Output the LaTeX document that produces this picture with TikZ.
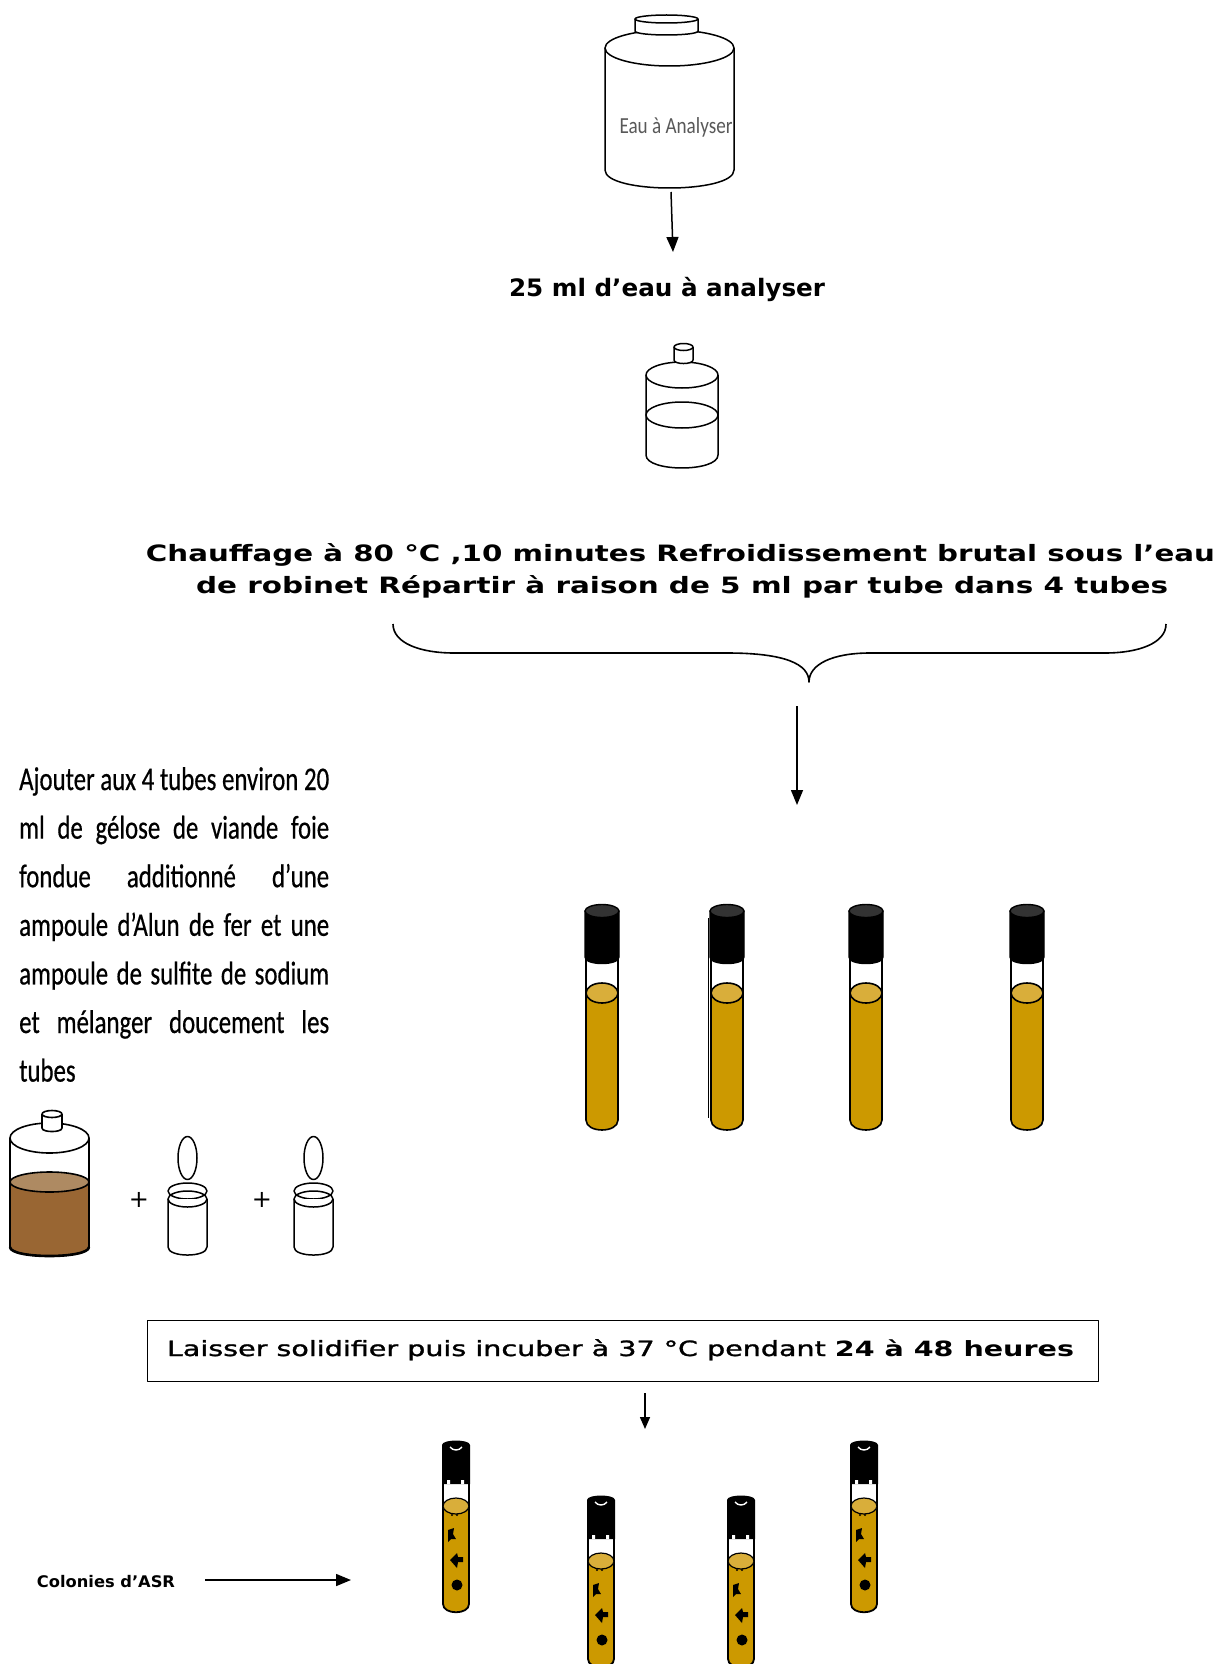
\documentclass[tikz,border=0pt]{standalone}
\usepackage{fontspec}
\setmainfont{DejaVu Sans}
\newfontfamily\calib{Carlito}[FakeBold=0.6]
\newfontfamily\calibplain{Carlito}
\newfontfamily\semib{DejaVu Sans}[FakeBold=1.2]
\usetikzlibrary{arrows.meta}
\definecolor{gold}{HTML}{CC9900}
\definecolor{goldlight}{HTML}{D9AE3A}
\definecolor{capgray}{HTML}{333333}
\definecolor{brownliq}{HTML}{996633}
\definecolor{brownlight}{HTML}{AE8A62}
% stretch or squeeze a line horizontally to a given width
\newcommand\wideto[2]{\resizebox{#1}{\height}{#2}}
% one justified line of the condensed paragraph
\newcommand\jline[1]{\resizebox{310pt}{\height}{\makebox[412pt][s]{#1}}}
\begin{document}
\begin{tikzpicture}[x=1pt,y=-1pt,line join=round,
  arr/.style={line width=1.5pt,-{Triangle[length=15pt,width=12pt]}},
  smallarr/.style={line width=1.5pt,-{Triangle[length=12pt,width=10pt]}},
  lbl/.style={inner sep=0pt,anchor=base},
  para/.style={inner sep=0pt,anchor=base west,font=\calib\fontsize{33}{33}\selectfont},
  agartube/.pic={
    % agar column
    \filldraw[fill=gold,line width=1.6pt] (-16,993) -- (-16,1120)
      .. controls (-16,1133.3) and (16,1133.3) .. (16,1120) -- (16,993) -- cycle;
    \filldraw[fill=goldlight,line width=1.6pt] (0,993) ellipse [x radius=16,y radius=10];
    % empty glass above the agar
    \draw[line width=1.4pt] (-16,955) -- (-16,993) (16,955) -- (16,993);
    % screw cap
    \filldraw[fill=black,line width=1.4pt] (-17,911) -- (-17,957)
      .. controls (-17,965.7) and (17,965.7) .. (17,957) -- (17,911) -- cycle;
    \filldraw[fill=capgray,line width=1.4pt] (0,911) ellipse [x radius=17,y radius=6.5];
  },
  asrtube/.pic={
    % agar with colonies
    \filldraw[fill=gold,line width=1.8pt] (-13,66) -- (-13,164)
      .. controls (-13,175) and (13,175) .. (13,164) -- (13,66) -- cycle;
    \filldraw[fill=goldlight,line width=1.2pt] (0,66) ellipse [x radius=13,y radius=8];
    \fill (-4,75) circle [radius=1.2] (1,75) circle [radius=1.2];
    % glass
    \draw[line width=1.8pt] (-13,42) -- (-13,66) (13,42) -- (13,66);
    % cap
    \fill (-14,5) .. controls (-14,-1) and (14,-1) .. (14,5) -- (14,44) -- (-14,44) -- cycle;
    \draw[white,line width=1.4pt] (-6,7) .. controls (-3,11) and (3,11) .. (6,7);
    \fill[white] (-9,40) rectangle (-6,44) (5,40) rectangle (8,44);
    % colonies
    \fill (-8,90) -- (-2,88) -- (-3,94) -- (0,99) -- (-5,99) -- (-8,102) -- cycle;
    \fill (-6,120) -- (1,113) -- (2,117) -- (7,117) -- (7,122) -- (2,122) -- (1,128) -- cycle;
    \fill (1,145) circle [radius=5.5];
  },
  ampoule/.pic={
    \filldraw[fill=white,line width=1.5pt] (0,1158) ellipse [x radius=9.5,y radius=21.5];
    \filldraw[fill=white,line width=1.5pt] (0,1191) ellipse [x radius=19.5,y radius=8];
    \filldraw[fill=white,line width=1.5pt] (-19.5,1199) -- (-19.5,1247)
      .. controls (-19.5,1257.7) and (19.5,1257.7) .. (19.5,1247) -- (19.5,1199);
    \draw[line width=1.5pt] (0,1199) ellipse [x radius=19.5,y radius=8];
  },
]
\useasboundingbox[fill=white] (0,0) rectangle (1225,1664);

% ---- bottle of water to analyse ----
\begin{scope}[line width=1.5pt]
  \filldraw[fill=white] (605,48) -- (605,170) .. controls (605,194) and (734,194) .. (734,170) -- (734,48);
  \filldraw[fill=white] (669.5,48) ellipse [x radius=64.5,y radius=18];
  \filldraw[fill=white] (635,19) -- (635,31) .. controls (635,36.3) and (698,36.3) .. (698,31) -- (698,19);
  \filldraw[fill=white] (666.5,19) ellipse [x radius=31.5,y radius=4];
\end{scope}
\node[lbl,text=black!65] (eau) at (676,134)
  {\calibplain\fontsize{23}{23}\selectfont\wideto{113pt}{Eau à Analyser}};
\coordinate (b1) at (671,192);
\coordinate (t1) at (673,252);
\draw[arr] (b1) -- (t1);

\node[lbl] (vol) at (667,296.5)
  {\bfseries\fontsize{24}{24}\selectfont\wideto{316pt}{25 ml d’eau à analyser}};

% ---- 25 ml flask ----
\begin{scope}[line width=1.5pt]
  \filldraw[fill=white] (646,375) -- (646,455) .. controls (646,472.3) and (718,472.3) .. (718,455) -- (718,375);
  \draw (682,415) ellipse [x radius=36,y radius=13];
  \filldraw[fill=white] (682,375) ellipse [x radius=36,y radius=13];
  \filldraw[fill=white] (674,347) -- (674,360) .. controls (674,364.7) and (693,364.7) .. (693,360) -- (693,347);
  \filldraw[fill=white] (683.5,347) ellipse [x radius=9.5,y radius=3.5];
\end{scope}

% ---- heating step ----
\node[lbl] (heat1) at (680.5,561)
  {\bfseries\fontsize{22.5}{23}\selectfont\wideto{1069pt}{Chauffage à 80 °C ,10 minutes Refroidissement brutal sous l’eau}};
\node[lbl] (heat2) at (682,593)
  {\bfseries\fontsize{22.5}{23}\selectfont\wideto{972pt}{de robinet Répartir à raison de 5 ml par tube dans 4 tubes}};

% brace gathering the step
\coordinate (tip) at (809,682);
\draw[line width=1.6pt] (393,624) .. controls (393,643) and (420,653) .. (454,653) -- (727,653)
  .. controls (785,653) and (809,664) .. (tip)
  .. controls (809,664) and (833,653) .. (870,653) -- (1105,653)
  .. controls (1139,653) and (1166,643) .. (1166,624);
\coordinate (b2) at (797,706);
\coordinate (t2) at (797,805);
\draw[arr] (b2) -- (t2);

% ---- four tubes ----
\foreach \cx in {602,727,866,1027} \pic at (\cx,0) {agartube};
\draw[line width=1.4pt] (708.5,918) -- (708.5,1118);

% ---- medium preparation ----
\node[para] (p1) at (19,790)    {\jline{Ajouter aux 4 tubes environ 20}};
\node[para] (p2) at (19,838.6)  {\jline{ml de gélose de viande foie}};
\node[para] (p3) at (19,887.2)  {\jline{fondue additionné d’une}};
\node[para] (p4) at (19,935.8)  {\jline{ampoule d’Alun de fer et une}};
\node[para] (p5) at (19,984.4)  {\jline{ampoule de sulfite de sodium}};
\node[para] (p6) at (19,1033)   {\jline{et mélanger doucement les}};
\node[para] (p7) at (19,1081.6) {\scalebox{0.752}[1]{tubes}};

% flask of molten agar
\begin{scope}[line width=1.6pt]
  \filldraw[fill=brownliq] (10,1182) -- (10,1247) .. controls (10,1259) and (89,1259) .. (89,1247) -- (89,1182) -- cycle;
  \filldraw[fill=brownlight] (49.5,1182) ellipse [x radius=39.5,y radius=10];
  \draw[line width=2.6pt] (10,1247) .. controls (10,1259) and (89,1259) .. (89,1247);
  \draw (10,1138) -- (10,1182) (89,1138) -- (89,1182);
  \filldraw[fill=white] (49.5,1138) ellipse [x radius=39.5,y radius=15];
  \filldraw[fill=white] (42,1114) -- (42,1128) .. controls (42,1132.7) and (62,1132.7) .. (62,1128) -- (62,1114);
  \filldraw[fill=white] (52,1114) ellipse [x radius=10,y radius=3.5];
\end{scope}
\node (plus1) at (139,1200) {\fontsize{24}{24}\selectfont +};
\pic at (187.5,0) {ampoule};
\node (plus2) at (262,1200) {\fontsize{24}{24}\selectfont +};
\pic at (313.5,0) {ampoule};

% ---- incubation ----
\node[draw,line width=1.3pt,minimum width=951pt,minimum height=61.5pt,inner sep=0pt] (box) at (623,1351) {};
\node[lbl] (incub) at (620.5,1356)
  {\fontsize{21}{21}\selectfont\wideto{907pt}{{\semib Laisser solidifier puis incuber à 37 °C pendant} \textbf{24 à 48 heures}}};
\coordinate (b3) at (645,1393);
\coordinate (t3) at (645,1429);
\draw[smallarr] (b3) -- (t3);

% ---- tubes after incubation ----
\pic at (456,1440) {asrtube};
\pic at (601,1495) {asrtube};
\pic at (741,1495) {asrtube};
\pic at (864,1440) {asrtube};

\node[lbl] (colo) at (106,1587)
  {\bfseries\fontsize{16}{16}\selectfont\wideto{138pt}{Colonies d’ASR}};
\coordinate (b4) at (205,1580);
\coordinate (t4) at (351,1580);
\draw[arr] (b4) -- (t4);
\end{tikzpicture}
\end{document}
